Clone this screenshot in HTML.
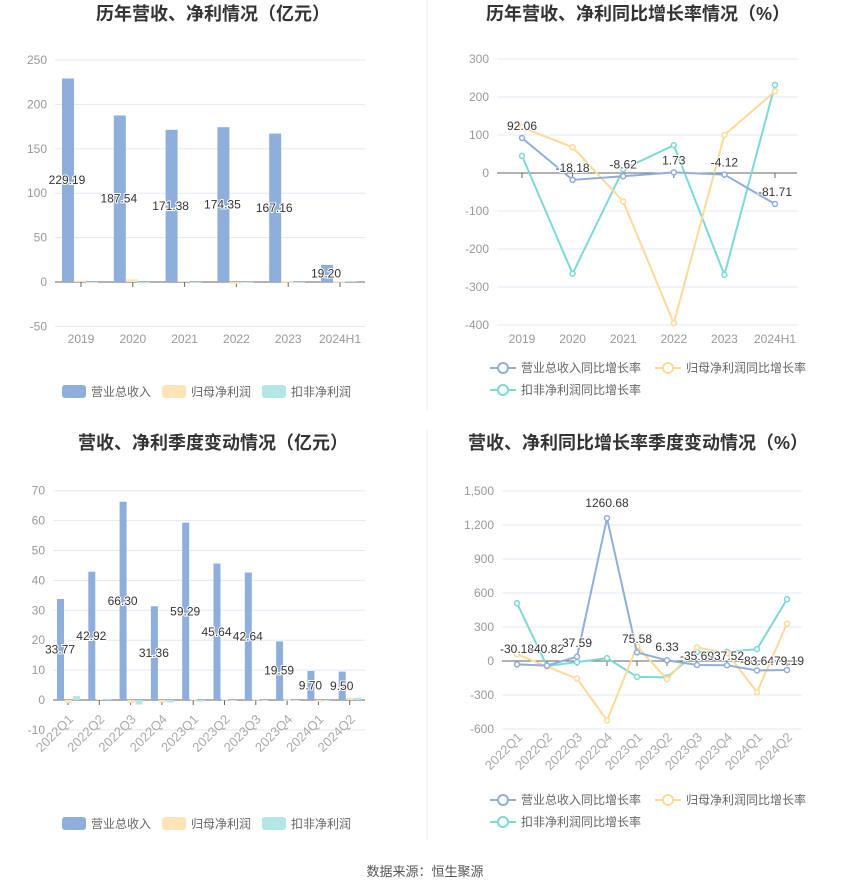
<!DOCTYPE html>
<html><head><meta charset="utf-8"><style>
body{margin:0;background:#fff;}
svg text{font-family:"Liberation Sans","Noto Sans CJK SC",sans-serif;}
</style></head><body>
<svg id="s" width="850" height="891" xmlns="http://www.w3.org/2000/svg"></svg>
<script>
const s=document.getElementById('s');let h='';
const B='#8eaedb',O='#fde3b5',C='#b5e6e6',OL='#fdd99a',CL='#7dd8d6',BL='#8eaedb';
function T(x,y,t,o){o=o||{};h+=`<text x="${x}" y="${y}" font-size="${o.fs||12}" fill="${o.c||'#999'}" text-anchor="${o.a||'middle'}" ${o.w?'font-weight="bold"':''} ${o.halo?'stroke="#fff" stroke-width="2" paint-order="stroke"':''} ${o.tr?`transform="${o.tr}"`:''}>${t}</text>`;}
function L(x1,y1,x2,y2,c,w){h+=`<line x1="${x1}" y1="${y1}" x2="${x2}" y2="${y2}" stroke="${c}" stroke-width="${w||1}"/>`;}
function R(x,y,w,hh,c){if(hh<0){y+=hh;hh=-hh;}h+=`<rect x="${x}" y="${y}" width="${w}" height="${Math.max(hh,0.8)}" fill="${c}"/>`;}
L(427,0,427,410,'#eee');L(427,430,427,840,'#eee');
T(213,20,'历年营收、净利情况（亿元）',{fs:18,w:1,c:'#333'});
T(638,20,'历年营收、净利同比增长率情况（%）',{fs:18,w:1,c:'#333'});
T(213,449,'营收、净利季度变动情况（亿元）',{fs:18,w:1,c:'#333'});
T(638,449,'营收、净利同比增长率季度变动情况（%）',{fs:18,w:1,c:'#333'});
T(425,876,'数据来源：恒生聚源',{fs:13,c:'#555'});
function grid(x1,x2,ticks,yf,lab){ticks.forEach(v=>{const y=yf(v);L(x1,y,x2,y,v==0?'#666':'#e3e8f3');T(x1-8,y+4,lab?lab(v):v,{a:'end'});});}
function legBar(y,x0){const it=[['营业总收入',B],['归母净利润',O],['扣非净利润',C]];it.forEach((a,i)=>{const x=x0+i*100;h+=`<rect x="${x}" y="${y-6}" width="24" height="13" rx="3" fill="${a[1]}"/>`;T(x+29,y+5,a[0],{a:'start',c:'#666'});});}
function legLine(x0,y){const it=[['营业总收入同比增长率',BL,x0,y],['归母净利润同比增长率',OL,x0+165,y],['扣非净利润同比增长率',CL,x0,y+22]];it.forEach(a=>{L(a[2],a[3],a[2]+26,a[3],a[1],2);h+=`<circle cx="${a[2]+13}" cy="${a[3]}" r="5" fill="#fff" stroke="${a[1]}" stroke-width="2"/>`;T(a[2]+31,a[3]+4,a[0],{a:'start',c:'#666'});});}
{const yf=v=>282-v*0.888;grid(55,365,[250,200,150,100,50,0,-50],yf);
const cats=['2019','2020','2021','2022','2023','2024H1'],b=[229.19,187.54,171.38,174.35,167.16,19.20],o=[1.5,3,1,-2,0.5,0.5],c=[-0.5,-1.5,-1,-0.5,-1,1];
cats.forEach((k,i)=>{const cx=81+51.8*i;L(cx,282,cx,287,'#666');R(cx-19,yf(b[i]),12,b[i]*0.888,B);R(cx-7,282,12,-o[i]*0.888,O);R(cx+5,282,12,-c[i]*0.888,C);T(cx,343,k,{c:'#999'});});
cats.forEach((k,i)=>{const cx=81+51.8*i;T(cx-14,yf(b[i]/2)+4,b[i].toFixed(2),{c:'#333',halo:1});});
legBar(391,62);}
{const yf=v=>173-v*0.38;grid(497,797,[300,200,100,0,-100,-200,-300,-400],yf);
const cats=['2019','2020','2021','2022','2023','2024H1'],xs=cats.map((k,i)=>522+50.6*i);
const b=[92.06,-18.18,-8.62,1.73,-4.12,-81.71],o=[120,68,-75,-395,100,215],c=[45,-265,10,73,-268,232];
xs.forEach((x,i)=>{L(x,173,x,178,'#666');T(x,343,cats[i]);});
[[c,CL],[o,OL],[b,BL]].forEach(a=>{h+=`<polyline fill="none" stroke="${a[1]}" stroke-width="2" points="${xs.map((x,i)=>x+','+yf(a[0][i])).join(' ')}"/>`;xs.forEach((x,i)=>h+=`<circle cx="${x}" cy="${yf(a[0][i])}" r="2.5" fill="#fff" stroke="${a[1]}" stroke-width="1.5"/>`);});
xs.forEach((x,i)=>T(x,yf(b[i])-8,b[i].toFixed(2),{c:'#333',halo:1}));
legLine(490,368);}
{const yf=v=>700-v*2.99;grid(53,365,[70,60,50,40,30,20,10,0,-10],yf);
const cats=['2022Q1','2022Q2','2022Q3','2022Q4','2023Q1','2023Q2','2023Q3','2023Q4','2024Q1','2024Q2'];
const b=[33.77,42.92,66.30,31.36,59.29,45.64,42.64,19.59,9.70,9.50],o=[-1,0.3,-1,-0.8,0.2,0.2,0.2,0.1,-0.6,0.8],c=[1.3,0.4,-1.5,-0.8,-0.5,-0.2,-0.2,-0.1,0,0.8];
cats.forEach((k,i)=>{const cx=68+31.3*i;L(cx,700,cx,705,'#666');R(cx-11,yf(b[i]),7,b[i]*2.99,B);R(cx-3,700,7,-o[i]*2.99,O);R(cx+5,700,7,-c[i]*2.99,C);T(cx+6,720,k,{a:'end',fs:13,c:'#aaa',tr:`rotate(-45 ${cx+6} 720)`});});
cats.forEach((k,i)=>{const cx=68+31.3*i;T(cx-8,yf(b[i]/2)+4,b[i].toFixed(2),{c:'#333',halo:1});});
legBar(823,62);}
{const yf=v=>661-v*0.1133;grid(502,802,[1500,1200,900,600,300,0,-300,-600],yf,v=>v.toLocaleString('en-US'));
const cats=['2022Q1','2022Q2','2022Q3','2022Q4','2023Q1','2023Q2','2023Q3','2023Q4','2024Q1','2024Q2'],xs=cats.map((k,i)=>517+30*i);
const b=[-30.18,-40.82,37.59,1260.68,75.58,6.33,-35.69,-37.52,-83.64,-79.19],o=[60,-50,-155,-525,130,-160,120,70,-275,330],c=[510,-45,-10,25,-140,-145,80,80,105,545];
xs.forEach((x,i)=>{L(x,661,x,666,'#666');T(x+6,738,cats[i],{a:'end',fs:13,c:'#aaa',tr:`rotate(-45 ${x+6} 738)`});});
[[c,CL],[o,OL],[b,BL]].forEach(a=>{h+=`<polyline fill="none" stroke="${a[1]}" stroke-width="2" points="${xs.map((x,i)=>x+','+yf(a[0][i])).join(' ')}"/>`;xs.forEach((x,i)=>h+=`<circle cx="${x}" cy="${yf(a[0][i])}" r="2.5" fill="#fff" stroke="${a[1]}" stroke-width="1.5"/>`);});
const ly=[653,653,647,507,643,651,660,660,665,665];
xs.forEach((x,i)=>T(x,ly[i],b[i].toFixed(2),{c:'#333',halo:1}));
legLine(490,800);}
s.innerHTML=h;
</script>
</body></html>
